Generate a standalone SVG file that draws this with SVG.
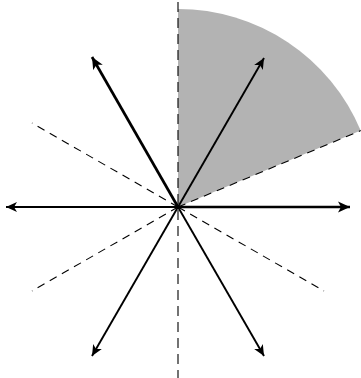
<svg xmlns="http://www.w3.org/2000/svg" width="361" height="378" viewBox="0 0 361 378">
<style>
.dash{stroke:#000;stroke-width:1.1;fill:none;stroke-dasharray:8,6}
.vdash{stroke:#000;stroke-width:1.1;fill:none;stroke-dasharray:10,6}
.arr{stroke:#000;stroke-width:1.9;fill:none;marker-end:url(#ah)}
.thick{stroke-width:2.7;marker-end:url(#ahT)}
</style>
<defs>
<marker id="ah" markerUnits="userSpaceOnUse" viewBox="-12 -6 14 12" refX="0" refY="0" markerWidth="14" markerHeight="12" orient="auto">
<path d="M0,0 L-11,-5 L-8,0 L-11,5 Z" fill="#000"/>
</marker>
<marker id="ahT" markerUnits="userSpaceOnUse" viewBox="-12 -6 14 12" refX="0" refY="0" markerWidth="14" markerHeight="12" orient="auto">
<path d="M0,0 L-12,-5.5 L-9,0 L-12,5.5 Z" fill="#000"/>
</marker>
</defs>
<g id="sector">
<path d="M178,207 L178,9 A198,198 0 0 1 360.7,130.6 Z" fill="#b3b3b3"/>
<line class="dash" x1="178" y1="207" x2="360.7" y2="130.6"/>
</g>
<g id="guides">
<line class="vdash" x1="178" y1="2" x2="178" y2="378"/>
<line class="dash" x1="178" y1="207" x2="32" y2="123"/>
<line class="dash" x1="178" y1="207" x2="32" y2="291"/>
<line class="dash" x1="178" y1="207" x2="324" y2="291"/>
</g>
<g id="connectors">
<line class="arr" x1="178" y1="207" x2="6" y2="207"/>
<line class="arr thick" x1="178" y1="207" x2="350" y2="207"/>
<line class="arr thick" x1="178" y1="207" x2="92" y2="57"/>
<line class="arr" x1="178" y1="207" x2="264" y2="58"/>
<line class="arr" x1="178" y1="207" x2="92" y2="356"/>
<line class="arr" x1="178" y1="207" x2="264" y2="356"/>
</g>
</svg>
